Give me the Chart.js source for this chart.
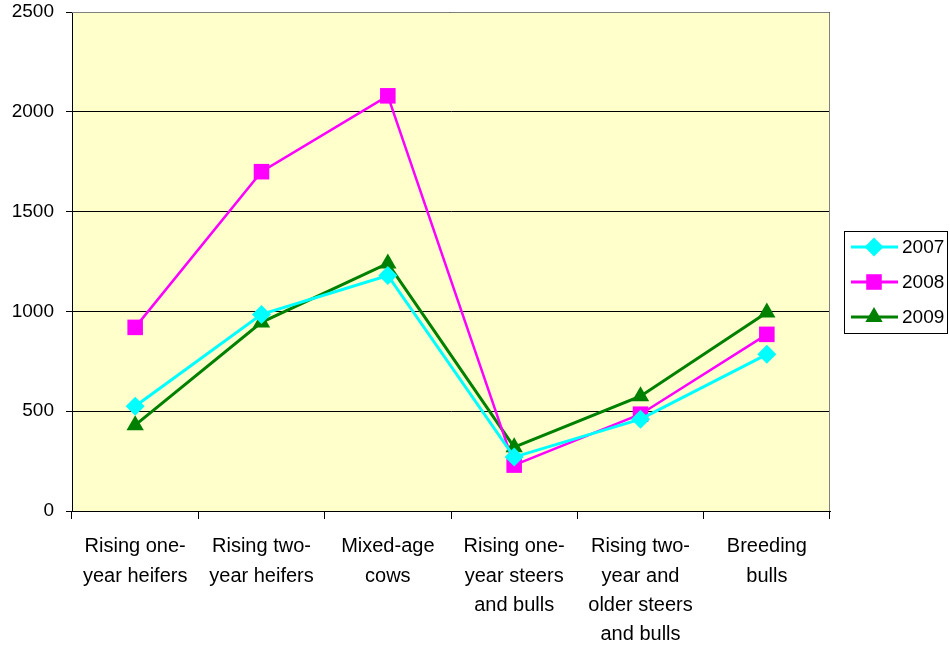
<!DOCTYPE html>
<html>
<head>
<meta charset="utf-8">
<script src="https://cdn.jsdelivr.net/npm/chart.js@4/dist/chart.umd.min.js"></script>
<style>
  html, body { margin: 0; padding: 0; background: #fff; }
  #wrap { width: 950px; height: 650px; position: relative; }
</style>
</head>
<body>
<div id="wrap"><canvas id="mainChart"></canvas></div>
<script>
// categories and series values
const categories = [
    ['Rising one-', 'year heifers'],
    ['Rising two-', 'year heifers'],
    ['Mixed-age', 'cows'],
    ['Rising one-', 'year steers', 'and bulls'],
    ['Rising two-', 'year and', 'older steers', 'and bulls'],
    ['Breeding', 'bulls']
];
const values2007 = [525, 985, 1180, 270, 460, 785];
const values2008 = [920, 1700, 2080, 230, 485, 885];
const values2009 = [430, 945, 1240, 320, 575, 995];
const yTicks = [0, 500, 1000, 1500, 2000, 2500];

const FONT = "'Liberation Sans', Arial, sans-serif";

// plot background + border
const plotBackground = {
    id: 'plotBackground',
    beforeDraw(chart) {
        const { ctx, chartArea: a } = chart;
        ctx.save();
        ctx.fillStyle = '#FFFFCC';
        ctx.fillRect(a.left, a.top, a.right - a.left, a.bottom - a.top);
        ctx.restore();
    },
    afterDatasetsDraw(chart) {
        const { ctx, chartArea: a } = chart;
        ctx.save();
        ctx.strokeStyle = '#808080';
        ctx.lineWidth = 1;
        ctx.beginPath();
        ctx.moveTo(a.left, a.top + 0.5);
        ctx.lineTo(a.right - 0.5, a.top + 0.5);
        ctx.lineTo(a.right - 0.5, a.bottom);
        ctx.stroke();
        ctx.restore();
    }
};

// boxed legend on the right
const boxLegend = {
    id: 'boxLegend',
    afterDraw(chart) {
        const ctx = chart.ctx;
        const x = 844, y = 231, w = 104, h = 103;
        ctx.save();
        ctx.fillStyle = '#fff';
        ctx.fillRect(x, y, w, h);
        ctx.strokeStyle = '#000';
        ctx.lineWidth = 1;
        ctx.strokeRect(x + 0.5, y + 0.5, w - 1, h - 1);
        chart.data.datasets.forEach((ds, i) => {
            const cy = y + 16 + i * 35;
            ctx.strokeStyle = ds.borderColor;
            ctx.lineWidth = 3;
            ctx.beginPath();
            ctx.moveTo(851, cy);
            ctx.lineTo(898, cy);
            ctx.stroke();
            ctx.fillStyle = ds.borderColor;
            Chart.helpers.drawPoint(ctx, {
                pointStyle: ds.pointStyle,
                radius: ds.pointRadius,
                borderWidth: 0
            }, 874, cy);
            ctx.fillStyle = '#000';
            ctx.font = '19px ' + FONT;
            ctx.textBaseline = 'middle';
            ctx.fillText(ds.label, 902, cy + 1);
        });
        ctx.restore();
    }
};

const ctx = document.getElementById('mainChart').getContext('2d');
new Chart(ctx, {
    type: 'line',
    data: {
        labels: categories,
        datasets: [{
            label: '2007',
            data: values2007,
            borderColor: '#00FFFF',
            backgroundColor: '#00FFFF',
            borderWidth: 3,
            pointStyle: 'rectRot',
            pointRadius: 9.5,
            pointBorderWidth: 0
        }, {
            label: '2008',
            data: values2008,
            borderColor: '#FF00FF',
            backgroundColor: '#FF00FF',
            borderWidth: 2.5,
            pointStyle: 'rect',
            pointRadius: 11,
            pointBorderWidth: 0
        }, {
            label: '2009',
            data: values2009,
            borderColor: '#008000',
            backgroundColor: '#008000',
            borderWidth: 3,
            pointStyle: 'triangle',
            pointRadius: 10,
            pointBorderWidth: 0
        }]
    },
    options: {
        responsive: true,
        maintainAspectRatio: false,
        animation: false,
        layout: { padding: { top: 12, right: 120, left: 0, bottom: 0 } },
        plugins: {
            legend: { display: false },
            tooltip: { enabled: false }
        },
        scales: {
            x: {
                offset: true,
                grid: {
                    offset: true,
                    drawOnChartArea: false,
                    color: '#000',
                    tickLength: 8
                },
                border: { color: '#000', width: 1 },
                ticks: {
                    color: '#000',
                    font: { family: FONT, size: 20, lineHeight: 1.47 },
                    maxRotation: 0,
                    autoSkip: false,
                    padding: 13
                },
                afterFit(s) { s.height = 139; s.paddingLeft = 0; s.paddingRight = 0; }
            },
            y: {
                min: 0,
                max: 2500,
                afterBuildTicks(s) { s.ticks = yTicks.map(v => ({ value: v })); },
                grid: {
                    color: '#000',
                    tickLength: 6
                },
                border: { color: '#000', width: 1 },
                ticks: {
                    color: '#000',
                    font: { family: FONT, size: 19, lineHeight: 1 },
                    padding: 12,
                    callback: v => String(v)
                },
                afterFit(s) { s.width = 72; s.paddingTop = 0; s.paddingBottom = 0; }
            }
        }
    },
    plugins: [plotBackground, boxLegend]
});
</script>
</body>
</html>
